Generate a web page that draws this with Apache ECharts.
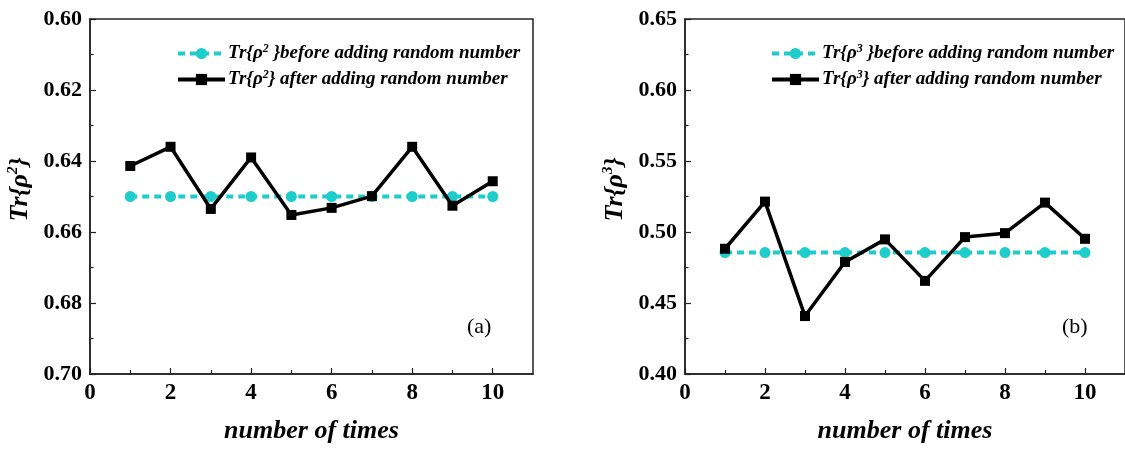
<!DOCTYPE html>
<html>
<head>
<meta charset="utf-8">
<script src="https://cdn.jsdelivr.net/npm/echarts@6/dist/echarts.min.js"></script>
<style>html,body{margin:0;padding:0;background:#fff}#c{width:1125px;height:449px}</style>
</head>
<body>
<div id="c"></div>
<script>
var times = [1, 2, 3, 4, 5, 6, 7, 8, 9, 10];
var beforeA = [0.650, 0.650, 0.650, 0.650, 0.650, 0.650, 0.650, 0.650, 0.650, 0.650];
var afterA = [0.6414, 0.6360, 0.6535, 0.6390, 0.6552, 0.6532, 0.6499, 0.6360, 0.6526, 0.6457];
var beforeB = [0.4855, 0.4855, 0.4855, 0.4855, 0.4855, 0.4855, 0.4855, 0.4855, 0.4855, 0.4855];
var afterB = [0.4882, 0.5214, 0.4408, 0.4789, 0.4948, 0.4656, 0.4964, 0.4992, 0.5207, 0.4952];
var xMajorTicks = [0, 2, 4, 6, 8, 10];
var xMinorTicks = [1, 3, 5, 7, 9];
var namesA = ['Tr{ρ{s|2} }before adding random number', 'Tr{ρ{s|2}} after adding random number'];
var namesB = ['Tr{ρ{s|3} }before adding random number', 'Tr{ρ{s|3}} after adding random number'];
var yNameA = 'Tr{ρ{s|2}}';
var yNameB = 'Tr{ρ{s|3}}';
var xName = 'number of times';
var panelLabels = ['(a)', '(b)'];

var FONT = 'Liberation Serif';
var CYAN = '#1fcccc';

function pairs(xs, ys) { return xs.map(function (x, i) { return [x, ys[i]]; }); }

function mainX(gi) {
  return {
    type: 'value', gridIndex: gi, min: 0, max: 11, interval: 2,
    name: xName, nameLocation: 'middle', nameGap: 44,
    nameTextStyle: { fontFamily: FONT, fontSize: 26, fontWeight: 'bold', fontStyle: 'italic', color: '#000' },
    axisLine: { show: true, lineStyle: { color: '#222', width: 1.5 } },
    axisTick: { show: true, inside: true, length: 6, customValues: xMajorTicks, lineStyle: { color: '#222', width: 1.2 } },
    axisLabel: { customValues: xMajorTicks, margin: 8, fontFamily: FONT, fontSize: 23, fontWeight: 'bold', color: '#000' },
    splitLine: { show: false }
  };
}
function minorX(gi) {
  return {
    type: 'value', gridIndex: gi, min: 0, max: 11, position: 'bottom',
    axisLine: { show: false },
    axisTick: { show: true, inside: true, length: 4, customValues: xMinorTicks, lineStyle: { color: '#222', width: 1.2 } },
    axisLabel: { show: false },
    splitLine: { show: false }
  };
}
function yAx(gi, min, max, interval, inverse, nm) {
  return {
    type: 'value', gridIndex: gi, min: min, max: max, interval: interval, inverse: inverse,
    name: nm, nameLocation: 'middle', nameGap: 56, nameRotate: 90,
    nameTextStyle: {
      fontFamily: FONT, fontSize: 26, fontWeight: 'bold', fontStyle: 'italic', color: '#000', padding: [0, 0, 0, 14],
      rich: { s: { fontFamily: FONT, fontSize: 15, fontWeight: 'bold', fontStyle: 'italic', color: '#000', padding: [0, 0, 13, 0] } }
    },
    axisLine: { show: true, lineStyle: { color: '#222', width: 1.5 } },
    axisTick: { show: true, inside: true, length: 6, lineStyle: { color: '#222', width: 1.2 } },
    minorTick: { show: true, splitNumber: 2, length: 3.5, lineStyle: { color: '#222', width: 1.2 } },
    axisLabel: { margin: 8, fontFamily: FONT, fontSize: 22, fontWeight: 'bold', color: '#000',
      formatter: function (v) { return v.toFixed(2); } },
    splitLine: { show: false }
  };
}
function legendFor(names, left) {
  return {
    data: names, orient: 'vertical', left: left, top: 38, itemWidth: 47, itemHeight: 14, itemGap: 6,
    lineStyle: { width: 4 },
    textStyle: {
      fontFamily: FONT, fontSize: 19, fontWeight: 'bold', fontStyle: 'italic', color: '#000', padding: [0, 0, 0, -2],
      rich: { s: { fontFamily: FONT, fontSize: 12, fontWeight: 'bold', fontStyle: 'italic', color: '#000', padding: [0, 0, 9, 0] } }
    }
  };
}
function beforeSeries(name, xi, yi, ys) {
  return {
    name: name, type: 'line', xAxisIndex: xi, yAxisIndex: yi, data: pairs(times, ys),
    symbol: 'circle', symbolSize: 11, z: 2,
    itemStyle: { color: CYAN },
    lineStyle: { color: CYAN, width: 4, type: [7, 5] }
  };
}
function afterSeries(name, xi, yi, ys) {
  return {
    name: name, type: 'line', xAxisIndex: xi, yAxisIndex: yi, data: pairs(times, ys),
    symbol: 'rect', symbolSize: 10, z: 3,
    itemStyle: { color: '#000' },
    lineStyle: { color: '#000', width: 3.5 }
  };
}

var chart = echarts.init(document.getElementById('c'), null, { renderer: 'canvas' });
chart.setOption({
  animation: false,
  backgroundColor: '#fff',
  grid: [
    { left: 90, width: 443, top: 19, height: 356, show: true, borderColor: '#222', borderWidth: 1.5, backgroundColor: 'transparent' },
    { left: 685, width: 443, top: 19, height: 356, show: true, borderColor: '#222', borderWidth: 1.5, backgroundColor: 'transparent' }
  ],
  xAxis: [mainX(0), minorX(0), mainX(1), minorX(1)],
  yAxis: [
    yAx(0, 0.60, 0.70, 0.02, true, yNameA),
    yAx(1, 0.40, 0.65, 0.05, false, yNameB)
  ],
  legend: [legendFor(namesA, 171), legendFor(namesB, 765)],
  series: [
    beforeSeries(namesA[0], 0, 0, beforeA),
    afterSeries(namesA[1], 0, 0, afterA),
    beforeSeries(namesB[0], 2, 1, beforeB),
    afterSeries(namesB[1], 2, 1, afterB)
  ],
  graphic: [
    { type: 'text', left: 467, top: 316, style: { text: panelLabels[0], font: '22px "Liberation Serif"', fill: '#000' } },
    { type: 'text', left: 1062, top: 316, style: { text: panelLabels[1], font: '22px "Liberation Serif"', fill: '#000' } }
  ]
});
</script>
</body>
</html>
